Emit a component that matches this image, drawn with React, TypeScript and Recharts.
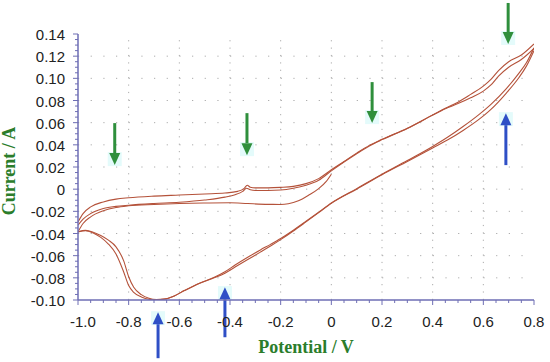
import { LineChart, Line, XAxis, YAxis, ReferenceLine } from "recharts"

// [potential V, current A]
const anodicTop: [number, number][] = [
  [-1.0, -0.0295], [-0.98, -0.022], [-0.95, -0.016], [-0.9, -0.0115], [-0.85, -0.009],
  [-0.8, -0.0078], [-0.7, -0.0063], [-0.6, -0.0053], [-0.5, -0.0043], [-0.42, -0.0035],
  [-0.37, -0.002], [-0.345, 0.0005], [-0.332, 0.0035], [-0.32, 0.0018], [-0.3, 0.0012],
  [-0.25, 0.0012], [-0.2, 0.0016], [-0.15, 0.0025], [-0.1, 0.005], [-0.05, 0.0095],
  [0, 0.0175], [0.05, 0.025], [0.1, 0.0325], [0.15, 0.0395], [0.2, 0.045], [0.3, 0.055],
  [0.4, 0.067], [0.45, 0.073], [0.5, 0.0785], [0.55, 0.0855], [0.6, 0.093], [0.63, 0.099],
  [0.66, 0.107], [0.7, 0.115], [0.75, 0.121], [0.8, 0.131],
]

const anodicMid: [number, number][] = [
  [-1.0, -0.0325], [-0.98, -0.027], [-0.95, -0.022], [-0.9, -0.0175], [-0.85, -0.0155],
  [-0.8, -0.0145], [-0.7, -0.013], [-0.6, -0.0118], [-0.5, -0.0098], [-0.42, -0.0072],
  [-0.38, -0.005], [-0.35, -0.002], [-0.335, 0.0008], [-0.32, -0.0005], [-0.3, -0.0012],
  [-0.25, -0.0012], [-0.2, -0.0008], [-0.15, 0.0008], [-0.1, 0.0035], [-0.05, 0.008],
  [0, 0.0165], [0.05, 0.0245], [0.1, 0.032], [0.15, 0.039], [0.2, 0.0447], [0.3, 0.0548],
  [0.4, 0.0668], [0.45, 0.0725], [0.5, 0.0772], [0.55, 0.0825], [0.6, 0.0885], [0.63, 0.094],
  [0.66, 0.102], [0.7, 0.11], [0.75, 0.117], [0.8, 0.127],
]

const firstScan: [number, number][] = [
  [-1.0, -0.0385], [-0.98, -0.031], [-0.95, -0.025], [-0.9, -0.0195], [-0.85, -0.0165],
  [-0.8, -0.015], [-0.7, -0.0138], [-0.6, -0.013], [-0.5, -0.0125], [-0.4, -0.0123],
  [-0.33, -0.013], [-0.25, -0.0137], [-0.2, -0.0138], [-0.17, -0.0132], [-0.13, -0.0105],
  [-0.09, -0.0055], [-0.05, 0.0005], [-0.02, 0.007], [0, 0.0135],
]

const cathodicInner: [number, number][] = [
  [-1.0, -0.0385], [-0.97, -0.0372], [-0.94, -0.0388], [-0.91, -0.0418], [-0.88, -0.046],
  [-0.85, -0.052], [-0.82, -0.0645], [-0.8, -0.079], [-0.78, -0.0885], [-0.75, -0.0952],
  [-0.72, -0.0985], [-0.69, -0.0996], [-0.66, -0.0992], [-0.62, -0.0963], [-0.58, -0.0915],
  [-0.52, -0.0848], [-0.46, -0.0793], [-0.42, -0.0745], [-0.38, -0.0685], [-0.33, -0.0615],
  [-0.28, -0.0548], [-0.24, -0.0498], [-0.2, -0.0445], [-0.15, -0.037], [-0.1, -0.029],
  [-0.05, -0.0208], [0, -0.0125], [0.1, 0.0005], [0.2, 0.0135], [0.3, 0.0258], [0.4, 0.0385],
  [0.46, 0.047], [0.52, 0.0565], [0.58, 0.0668], [0.63, 0.0765], [0.69, 0.0905],
  [0.74, 0.1045], [0.77, 0.114], [0.8, 0.1275],
]

const cathodicOuter: [number, number][] = [
  [-1.0, -0.0385], [-0.97, -0.0375], [-0.94, -0.0395], [-0.91, -0.0435], [-0.88, -0.0495],
  [-0.85, -0.0585], [-0.82, -0.0745], [-0.8, -0.087], [-0.78, -0.0932], [-0.75, -0.0972],
  [-0.72, -0.0993], [-0.69, -0.0998], [-0.66, -0.0992], [-0.62, -0.0963], [-0.58, -0.0915],
  [-0.52, -0.0848], [-0.46, -0.0798], [-0.42, -0.0758], [-0.38, -0.0703], [-0.33, -0.0635],
  [-0.28, -0.0568], [-0.24, -0.0513], [-0.2, -0.0455], [-0.15, -0.0377], [-0.1, -0.0295],
  [-0.05, -0.0212], [0, -0.0128], [0.1, 0.0], [0.2, 0.013], [0.3, 0.025], [0.4, 0.0372],
  [0.46, 0.0445], [0.52, 0.053], [0.58, 0.0625], [0.63, 0.072], [0.69, 0.0865],
  [0.74, 0.1005], [0.77, 0.111], [0.8, 0.125],
]

const xMajor = [-1.0, -0.8, -0.6, -0.4, -0.2, 0, 0.2, 0.4, 0.6, 0.8]
const xLabels = ["-1.0", "-0.8", "-0.6", "-0.4", "-0.2", "0", "0.2", "0.4", "0.6", "0.8"]
const yMajor = [-0.1, -0.08, -0.06, -0.04, -0.02, 0, 0.02, 0.04, 0.06, 0.08, 0.1, 0.12, 0.14]
const yLabels = ["-0.10", "-0.08", "-0.06", "-0.04", "-0.02", "0", "0.02", "0.04", "0.06", "0.08", "0.10", "0.12", "0.14"]

// annotation arrows: potential, tail current, tip current
const greenArrows = [
  { v: -0.855, from: 0.0596, to: 0.0217 },
  { v: -0.333, from: 0.0686, to: 0.0307 },
  { v: 0.161, from: 0.0966, to: 0.0596 },
  { v: 0.698, from: 0.168, to: 0.131 },
]
const blueArrows = [
  { v: -0.684, from: -0.1525, to: -0.111 },
  { v: -0.42, from: -0.1336, to: -0.0884 },
  { v: 0.689, from: 0.0217, to: 0.0686 },
]

const xMinor = Array.from({ length: 37 }, (_, k) => Math.round((-1 + k * 0.05) * 1000) / 1000)
const yMinor = Array.from({ length: 49 }, (_, k) => Math.round((-0.1 + k * 0.005) * 10000) / 10000)

const AXIS = "#6e6eb4"
const CURVE = "#b4523a"
const GRID = "#ababab"
const TITLE = "#2b7d2b"
const FONT = "'Liberation Sans', Arial, sans-serif"

const pts = (arr: [number, number][]) => arr.map(([v, i]) => ({ v, i }))
const majorIdx = (list: number[], val: number) => list.findIndex((m) => Math.abs(m - val) < 1e-6)

const BottomTick = (p: any) => {
  const k = majorIdx(xMajor, p.payload.value)
  const first = k === 0
  return (
    <g>
      <line x1={p.x} y1={p.y} x2={p.x} y2={p.y + (k >= 0 ? 5 : 3)} stroke={AXIS} />
      {k >= 0 && (
        <text x={first ? p.x - 8 : p.x} y={p.y + 27} textAnchor={first ? "start" : "middle"}
          fontSize={15} fontFamily={FONT} fill="#222">
          {xLabels[k]}
        </text>
      )}
    </g>
  )
}

const TopTick = (p: any) => {
  const k = majorIdx(xMajor, p.payload.value)
  return <line x1={p.x} y1={p.y} x2={p.x} y2={p.y - (k >= 0 ? 5 : 3)} stroke={AXIS} />
}

const LeftTick = (p: any) => {
  const k = majorIdx(yMajor, p.payload.value)
  return (
    <g>
      <line x1={p.x - (k >= 0 ? 5 : 3)} y1={p.y} x2={p.x} y2={p.y} stroke={AXIS} />
      {k >= 0 && (
        <text x={p.x - 13} y={p.y + 6} textAnchor="end" fontSize={15} fontFamily={FONT} fill="#222">
          {yLabels[k]}
        </text>
      )}
    </g>
  )
}

const RightTick = (p: any) => {
  const k = majorIdx(yMajor, p.payload.value)
  return <line x1={p.x} y1={p.y} x2={p.x + (k >= 0 ? 5 : 3)} y2={p.y} stroke={AXIS} />
}

const arrowShape = (color: string) => (p: any) => {
  const { x1, y1, x2, y2 } = p
  const dx = x2 - x1
  const dy = y2 - y1
  const len = Math.hypot(dx, dy) || 1
  const ux = dx / len
  const uy = dy / len
  const head = 12
  const half = 5.5
  const bx = x2 - ux * head
  const by = y2 - uy * head
  const cx = (x2 + bx) / 2
  const cy = (y2 + by) / 2
  return (
    <g>
      <rect x={cx - 7} y={cy - 7} width={14} height={14} fill="#e4fbfb" />
      <line x1={x1} y1={y1} x2={bx} y2={by} stroke={color} strokeWidth={3} />
      <polygon
        points={`${x2},${y2} ${bx - uy * half},${by + ux * half} ${bx + uy * half},${by - ux * half}`}
        fill={color}
      />
    </g>
  )
}

const series = [anodicTop, anodicMid, firstScan, cathodicInner, cathodicOuter]

export default function App() {
  return (
    <div style={{ position: "absolute", left: 0, top: 0, width: 550, height: 362, background: "#fff" }}>
      <LineChart width={550} height={362} margin={{ top: 34, right: 16, bottom: 0, left: 0 }}>
        <XAxis
          xAxisId="b" type="number" dataKey="v" domain={[-1, 0.8]} ticks={xMinor} allowDataOverflow
          orientation="bottom" height={62} tickSize={0} tickMargin={0} tickLine={false}
          axisLine={{ stroke: AXIS, strokeWidth: 1.5 }} tick={BottomTick} interval={0}
          label={{
            content: ({ viewBox }: any) => (
              <text x={viewBox.x + viewBox.width / 2} y={viewBox.y + 53} textAnchor="middle"
                fontSize={18} fontWeight="bold" fontFamily="'Liberation Serif', 'Times New Roman', serif" fill={TITLE}>
                Potential / V
              </text>
            ),
          }}
        />
        <XAxis
          xAxisId="t" type="number" dataKey="v" domain={[-1, 0.8]} ticks={xMinor} allowDataOverflow
          orientation="top" height={0} tickSize={0} tickMargin={0} tickLine={false}
          axisLine={{ stroke: AXIS, strokeWidth: 1.5 }} tick={TopTick} interval={0}
        />
        <YAxis
          yAxisId="l" type="number" domain={[-0.1, 0.14]} ticks={yMinor} allowDataOverflow
          orientation="left" width={78} tickSize={0} tickMargin={0} tickLine={false}
          axisLine={{ stroke: AXIS, strokeWidth: 1.5 }} tick={LeftTick} interval={0}
          label={{
            content: ({ viewBox }: any) => {
              const x = viewBox.x + 15
              const y = viewBox.y + viewBox.height / 2 + 4
              return (
                <text x={x} y={y} transform={`rotate(-90 ${x} ${y})`} textAnchor="middle"
                  fontSize={18} fontWeight="bold" fontFamily="'Liberation Serif', 'Times New Roman', serif" fill={TITLE}>
                  Current / A
                </text>
              )
            },
          }}
        />
        <YAxis
          yAxisId="r" type="number" domain={[-0.1, 0.14]} ticks={yMinor} allowDataOverflow
          orientation="right" width={0} tickSize={0} tickMargin={0} tickLine={false}
          axisLine={{ stroke: AXIS, strokeWidth: 1.5 }} tick={RightTick} interval={0}
        />

        {xMajor.slice(1, -1).map((v) => (
          <ReferenceLine key={`gx${v}`} xAxisId="b" yAxisId="l" x={v} stroke={GRID} strokeDasharray="1.2 6.19" />
        ))}
        {yMajor.slice(1, -1).map((v) => (
          <ReferenceLine key={`gy${v}`} xAxisId="b" yAxisId="l" y={v} stroke={GRID} strokeDasharray="1.2 11.47" />
        ))}

        {series.map((s, n) => (
          <Line
            key={n} xAxisId="b" yAxisId="l" data={pts(s)} dataKey="i" type="monotone"
            stroke={CURVE} strokeWidth={1.1} dot={false} activeDot={false} isAnimationActive={false}
          />
        ))}

        {greenArrows.map((a, n) => (
          <ReferenceLine key={`ga${n}`} xAxisId="b" yAxisId="l" ifOverflow="visible"
            segment={[{ x: a.v, y: a.from }, { x: a.v, y: a.to }]} shape={arrowShape("#2f8f3c")} />
        ))}
        {blueArrows.map((a, n) => (
          <ReferenceLine key={`ba${n}`} xAxisId="b" yAxisId="l" ifOverflow="visible"
            segment={[{ x: a.v, y: a.from }, { x: a.v, y: a.to }]} shape={arrowShape("#2f4fc6")} />
        ))}
      </LineChart>
    </div>
  )
}
